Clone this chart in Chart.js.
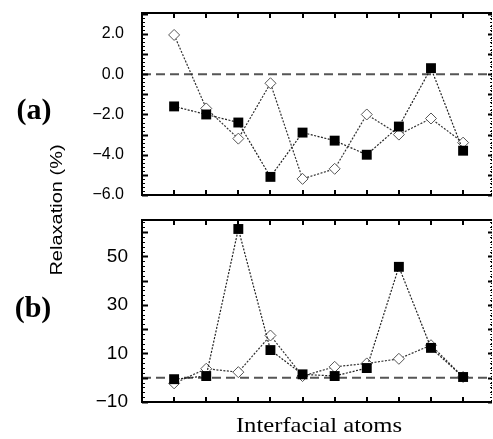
<!DOCTYPE html>
<html>
<head>
<meta charset="utf-8">
<script src="https://cdn.jsdelivr.net/npm/chart.js@4"></script>
<style>
    body { margin: 0; background: #fff; width: 493px; height: 439px; position: relative; overflow: hidden; }
    .panel { position: absolute; left: 0; width: 493px; }
    .lbl { position: absolute; white-space: nowrap; color: #000; line-height: 1; }
</style>
</head>
<body>
<div class="panel" style="top:0;height:210px"><canvas id="chartA"></canvas></div>
<div class="panel" style="top:210px;height:229px"><canvas id="chartB"></canvas></div>
<div class="lbl" style="left:34px;top:109px;transform:translate(-50%,-50%);font:bold 30px 'Liberation Serif';">(a)</div>
<div class="lbl" style="left:33px;top:307px;transform:translate(-50%,-50%);font:bold 30px 'Liberation Serif';">(b)</div>
<div class="lbl" style="left:57px;top:210px;transform:translate(-50%,-50%) rotate(-90deg) scaleX(1.25);font:16px 'Liberation Sans';">Relaxation (%)</div>
<div class="lbl" style="left:319px;top:425px;transform:translate(-50%,-50%) scaleX(1.12);font:22px 'Liberation Serif';">Interfacial atoms</div>
<script>
// atoms along the interface
const atoms = [1, 2, 3, 4, 5, 6, 7, 8, 9, 10];

// panel (a)
const relaxAFilled = [-1.6, -2.0, -2.4, -5.1, -2.9, -3.3, -4.0, -2.6, 0.3, -3.8];
const relaxAOpen = [1.95, -1.7, -3.2, -0.45, -5.2, -4.7, -2.0, -3.0, -2.2, -3.4];
const ticksA = [-6, -4, -2, 0, 2];

// panel (b)
const relaxBFilled = [-0.6, 0.7, 61.3, 11.4, 1.4, 0.7, 4.0, 45.7, 12.3, 0.3];
const relaxBOpen = [-2.3, 3.7, 2.3, 17.4, 0.7, 4.5, 5.9, 7.8, 13.4, 0.3];
const ticksB = [-10, 10, 30, 50];

const toPoints = (vals) => vals.map((v, i) => ({ x: atoms[i], y: v }));

// frame, inward ticks and the dashed zero line
const framePlugin = {
    id: 'frame',
    beforeDatasetsDraw(chart) {
        const { ctx, chartArea: a, scales: { y } } = chart;
        const y0 = y.getPixelForValue(0);
        ctx.save();
        ctx.strokeStyle = '#555';
        ctx.lineWidth = 2;
        ctx.setLineDash([9, 5]);
        ctx.beginPath();
        ctx.moveTo(a.left, y0);
        ctx.lineTo(a.right, y0);
        ctx.stroke();
        ctx.restore();
    },
    afterDraw(chart, args, opts) {
        const { ctx, chartArea: a, scales: { x, y } } = chart;
        ctx.save();
        ctx.strokeStyle = '#000';

        // x ticks top & bottom
        ctx.lineWidth = 2;
        ctx.beginPath();
        atoms.forEach(v => {
            const px = Math.round(x.getPixelForValue(v));
            ctx.moveTo(px, a.top); ctx.lineTo(px, a.top + 5);
            ctx.moveTo(px, a.bottom); ctx.lineTo(px, a.bottom - 5);
        });
        ctx.stroke();

        // y ticks left (solid) and right
        const start = Math.ceil(y.min / opts.minor - 1e-6);
        for (let k = start; k * opts.minor <= y.max + 1e-6; k++) {
            const v = k * opts.minor;
            const py = Math.round(y.getPixelForValue(v)) + 0.5;
            const major = Math.abs(v / opts.major - Math.round(v / opts.major)) < 1e-6;
            ctx.lineWidth = major ? 2 : 1;
            ctx.beginPath();
            ctx.moveTo(a.left, py); ctx.lineTo(a.left + (major ? 6 : 3), py);
            ctx.moveTo(a.right, py); ctx.lineTo(a.right - (major ? 4 : 2), py);
            ctx.stroke();
        }

        // border: solid left/top/bottom, dotted right
        ctx.lineWidth = 2;
        ctx.beginPath();
        ctx.moveTo(a.right, a.top); ctx.lineTo(a.left, a.top);
        ctx.lineTo(a.left, a.bottom); ctx.lineTo(a.right, a.bottom);
        ctx.stroke();
        ctx.lineWidth = 1;
        ctx.setLineDash([1, 2]);
        ctx.beginPath();
        ctx.moveTo(a.right - 0.5, a.top); ctx.lineTo(a.right - 0.5, a.bottom);
        ctx.stroke();
        ctx.restore();
    }
};

function makeChart(id, filled, open, yMin, yMax, labelTicks, fmt, fontSize, pad, layoutPad, minor, major) {
    return new Chart(document.getElementById(id), {
        type: 'line',
        data: {
            datasets: [{
                data: toPoints(filled),
                borderColor: '#222',
                borderWidth: 1.2,
                borderDash: [2, 1.5],
                pointStyle: 'rect',
                pointRadius: 7,
                pointBackgroundColor: '#000',
                pointBorderColor: '#000',
                pointBorderWidth: 0
            }, {
                data: toPoints(open),
                borderColor: '#333',
                borderWidth: 1.2,
                borderDash: [2, 1.5],
                pointStyle: 'rectRot',
                pointRadius: 5.5,
                pointBackgroundColor: '#fff',
                pointBorderColor: '#555',
                pointBorderWidth: 1
            }]
        },
        options: {
            responsive: true,
            maintainAspectRatio: false,
            animation: false,
            layout: { padding: layoutPad, autoPadding: false },
            plugins: {
                legend: { display: false },
                tooltip: { enabled: false },
                frame: { minor: minor, major: major }
            },
            scales: {
                x: { type: 'linear', min: 0, max: 10.9, display: false },
                y: {
                    min: yMin,
                    max: yMax,
                    grid: { display: false, drawTicks: false },
                    border: { display: false },
                    afterBuildTicks: (scale) => { scale.ticks = labelTicks.map(v => ({ value: v })); },
                    afterFit: (scale) => {
                        scale.width = 142;
                        scale.paddingTop = 0;
                        scale.paddingBottom = 0;
                    },
                    ticks: {
                        padding: pad,
                        color: '#000',
                        font: { family: 'Liberation Sans', size: fontSize },
                        callback: fmt
                    }
                }
            }
        },
        plugins: [framePlugin]
    });
}

makeChart('chartA', relaxAFilled, relaxAOpen, -6, 3.04, ticksA,
    (v) => v.toFixed(1).replace('-', '\u2212'), 16, 18,
    { top: 13, bottom: 15, right: 1, left: 0 }, 0.2, 1);

makeChart('chartB', relaxBFilled, relaxBOpen, -10, 65, ticksB,
    (v) => String(v).replace('-', '\u2212'), 19, 14,
    { top: 10, bottom: 37, right: 1, left: 0 }, 2, 10);
</script>
</body>
</html>
